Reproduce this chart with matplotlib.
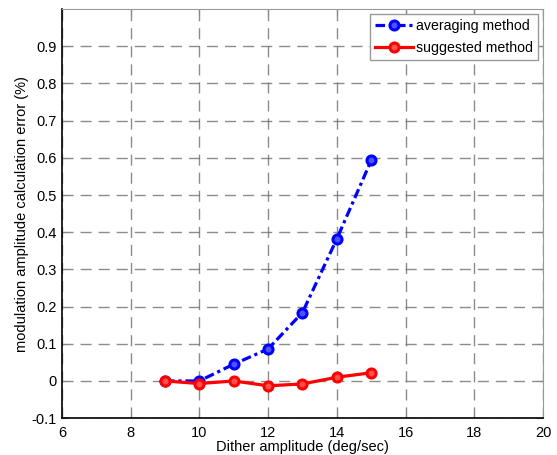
import matplotlib
matplotlib.use('Agg')
import matplotlib.pyplot as plt

plt.rcParams['font.family'] = ['Liberation Sans', 'DejaVu Sans']

# Data
dither = [9, 10, 11, 12, 13, 14, 15]
averaging = [0.0, 0.0, 0.045, 0.086, 0.184, 0.382, 0.593]
suggested = [0.0, -0.007, 0.0, -0.013, -0.008, 0.010, 0.022]

x_ticks = [6, 8, 10, 12, 14, 16, 18, 20]
y_ticks = [-0.1, 0, 0.1, 0.2, 0.3, 0.4, 0.5, 0.6, 0.7, 0.8, 0.9]
y_labels = ['-0.1', '0', '0.1', '0.2', '0.3', '0.4', '0.5', '0.6', '0.7', '0.8', '0.9']

fig = plt.figure(figsize=(5.57, 4.55), dpi=100)
ax = fig.add_axes([0.111, 0.081, 0.864, 0.899])

ax.plot(dither, averaging, color='#0000ff', linestyle=(0, (3, 1.2, 1, 1.2)), linewidth=2.3,
        marker='o', markersize=6.5, markerfacecolor='#5050ff', markeredgewidth=2.2,
        label='averaging method', zorder=3)
ax.plot(dither, suggested, color='#ff0000', linestyle='-', linewidth=2.3,
        marker='o', markersize=6.5, markerfacecolor='#ff5050', markeredgewidth=2.2,
        label='suggested method', zorder=4)

ax.set_xlim(6, 20)
ax.set_ylim(-0.1, 1.0)
ax.set_xticks(x_ticks)
ax.set_yticks(y_ticks)
ax.set_yticklabels(y_labels)
ax.grid(True, linestyle=(0, (8, 5)), color='#707070', linewidth=1, alpha=0.8)
ax.tick_params(direction='in', length=4, labelsize=10.5, top=True, right=True,
               color='#888888')
ax.tick_params(axis='x', pad=5.5)
ax.tick_params(axis='y', pad=3.5)

for side in ['top', 'right']:
    ax.spines[side].set_color('#999999')
ax.spines['left'].set_linewidth(1.2)
ax.spines['bottom'].set_linewidth(1.2)

ax.set_xlabel('Dither amplitude (deg/sec)', fontsize=10.5, labelpad=0)
ax.set_ylabel('modulation amplitude calculation error (%)', fontsize=10.5, labelpad=2)

leg = ax.legend(loc='upper right', fontsize=10.2, fancybox=False, framealpha=1,
                edgecolor='#999999', handlelength=2.7, borderpad=0.35,
                labelspacing=0.55, handletextpad=0.2, borderaxespad=0.35)

plt.savefig('out.png', dpi=100)
